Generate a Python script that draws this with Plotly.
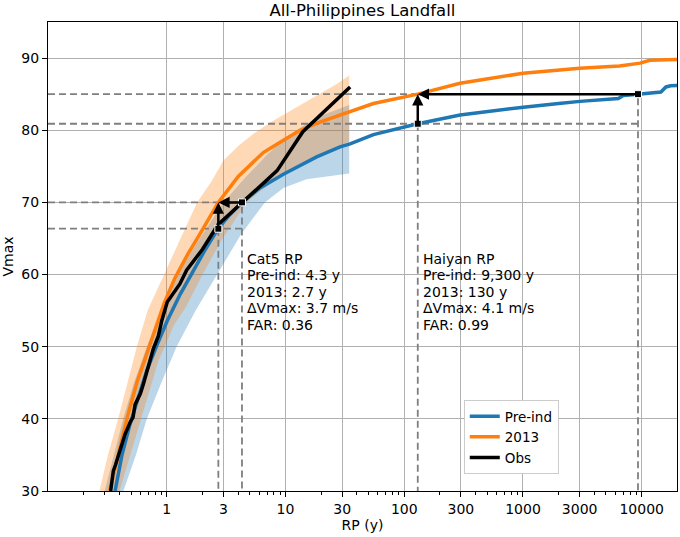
import numpy as np
import plotly.graph_objects as go

# ---------------- data ----------------
pre_x = [0.367, 0.42, 0.491, 0.58, 0.679, 0.83, 1.01, 1.3, 1.68, 2.1, 2.7, 3.4, 4.3, 6.1, 9.6, 13.3, 18.3,
         28.8, 35, 55, 130, 295, 600, 1007, 2000, 3020, 6350, 7000, 9300, 12000, 14500, 16000, 17500, 20000]
pre_v = [30, 35, 39.3, 43.3, 46.7, 50.3, 53.6, 57.3, 60.6, 63.4, 66.35, 68.3, 70, 72.0, 73.9, 75.1, 76.3,
         77.7, 78.1, 79.4, 80.9, 82.1, 82.8, 83.2, 83.7, 84.0, 84.4, 84.8, 85.0, 85.2, 85.3, 86.0, 86.15, 86.2]

cur_x = [0.33, 0.40, 0.47, 0.56, 0.66, 0.78, 0.95, 1.17, 1.5, 1.9, 2.72, 4.0, 6.5, 9.6, 13.3, 20, 29, 55,
         130, 295, 1000, 3000, 5000, 6500, 9700, 11700, 20000]
cur_v = [30, 36, 40.5, 45, 48.5, 52, 56, 59.5, 62.8, 65.6, 70, 73.6, 76.9, 78.6, 80.0, 81.2, 82.1, 83.7,
         85, 86.5, 87.9, 88.6, 88.8, 88.9, 89.3, 89.7, 89.8]

obs_x = [0.337, 0.355, 0.37, 0.399, 0.42, 0.446, 0.491, 0.52, 0.541, 0.60, 0.635, 0.70, 0.771, 0.85,
         0.908, 1.01, 1.15, 1.29, 1.47, 2.0, 2.7, 3.5, 4.3, 6.0, 8.5, 14.0, 35]
obs_v = [30, 32.8, 33.6, 35.3, 36.5, 37.9, 39.5, 40.2, 42.0, 43.5, 44.8, 47.1, 49.7, 51.5,
         53.6, 56.2, 57.5, 58.7, 60.6, 63.5, 66.9, 68.6, 69.9, 72.1, 74.4, 79.8, 86.0]

# uncertainty bands (upper/left edge and lower/right edge)
cur_hi_x = [0.271, 0.32, 0.39, 0.47, 0.56, 0.69, 0.95, 1.3, 1.8, 2.4, 3.0, 4.0, 5.37, 7.5, 10, 13.3, 20, 27, 34.4]
cur_hi_v = [30, 35, 40, 45, 50, 55, 60, 65, 70, 73, 75.8, 77.8, 79.5, 81.1, 82.3, 83.5, 85.1, 86.4, 87.6]
cur_lo_x = [0.40, 0.52, 0.66, 0.85, 1.15, 1.45, 2.0, 2.9, 4.7, 7.4, 13, 20, 34.4]
cur_lo_v = [30, 36, 42, 48, 53, 55.5, 60, 64.8, 70, 72.6, 75.3, 76.8, 78.4]

pre_hi_x = [0.30, 0.36, 0.43, 0.53, 0.68, 0.9, 1.22, 1.9, 3.0, 4.5, 7, 10, 15, 22, 34.4]
pre_hi_v = [30, 35, 40, 45, 50, 55, 60, 65, 70, 73.3, 76.6, 79.0, 80.9, 82.3, 83.5]
pre_lo_x = [0.431, 0.55, 0.68, 0.9, 1.21, 1.75, 2.64, 4.2, 6.7, 9.6, 15, 34.4]
pre_lo_v = [30, 35, 40, 45, 50, 55, 60, 65.5, 70, 72, 73.2, 74]

# event annotations
cat5_v, cat5_rp_pre, cat5_rp_now, cat5_v_pre_now = 70, 4.3, 2.72, 66.35
haiyan_v, haiyan_rp_pre, haiyan_rp_now, haiyan_v_pre_now = 85, 9300, 130, 80.9
cat5_text = ["Cat5 RP", "Pre-ind: 4.3 y", "2013: 2.7 y", "ΔVmax: 3.7 m/s", "FAR: 0.36"]
haiyan_text = ["Haiyan RP", "Pre-ind: 9,300 y", "2013: 130 y", "ΔVmax: 4.1 m/s", "FAR: 0.99"]

x_ticks = [1, 3, 10, 30, 100, 300, 1000, 3000, 10000]
y_ticks = [30, 40, 50, 60, 70, 80, 90]

X_MIN, Y_MIN = 0.1, 30

BLUE = "#1f77b4"
ORANGE = "#ff7f0e"
FONT = "DejaVu Sans"

fig = go.Figure()

def band(xh, vh, xl, vl, color):
    fig.add_trace(go.Scatter(x=list(xh) + list(xl)[::-1], y=list(vh) + list(vl)[::-1],
                             mode="lines", fill="toself", fillcolor=color,
                             line=dict(width=0), hoverinfo="skip", showlegend=False))

band(pre_hi_x, pre_hi_v, pre_lo_x, pre_lo_v, "rgba(31,119,180,0.3)")
band(cur_hi_x, cur_hi_v, cur_lo_x, cur_lo_v, "rgba(255,127,14,0.3)")

DASH = dict(color="#7f7f7f", width=1.8, dash="7px,4px")

def guide(xs, ys):
    fig.add_trace(go.Scatter(x=xs, y=ys, mode="lines", line=DASH, showlegend=False, hoverinfo="skip"))

# Cat5 guides
guide([X_MIN, cat5_rp_pre, cat5_rp_pre], [cat5_v, cat5_v, Y_MIN])
guide([X_MIN, cat5_rp_pre], [cat5_v_pre_now, cat5_v_pre_now])
guide([cat5_rp_now, cat5_rp_now], [cat5_v_pre_now, Y_MIN])
# Haiyan guides
guide([X_MIN, haiyan_rp_pre, haiyan_rp_pre], [haiyan_v, haiyan_v, Y_MIN])
guide([X_MIN, haiyan_rp_pre], [haiyan_v_pre_now, haiyan_v_pre_now])
guide([haiyan_rp_now, haiyan_rp_now], [haiyan_v_pre_now, Y_MIN])

fig.add_trace(go.Scatter(x=pre_x, y=pre_v, mode="lines", name="Pre-ind", line=dict(color=BLUE, width=3.5)))
fig.add_trace(go.Scatter(x=cur_x, y=cur_v, mode="lines", name="2013", line=dict(color=ORANGE, width=3.5)))
fig.add_trace(go.Scatter(x=obs_x, y=obs_v, mode="lines", name="Obs", line=dict(color="black", width=3.5)))

# arrows
def arrow(x0, y0, x1, y1):
    fig.add_annotation(x=np.log10(x1), y=y1, ax=np.log10(x0), ay=y0, xref="x", yref="y",
                       axref="x", ayref="y", text="", showarrow=True, arrowhead=2,
                       arrowsize=0.9, arrowwidth=2.5, arrowcolor="black")

arrow(cat5_rp_pre, cat5_v, cat5_rp_now, cat5_v)
arrow(cat5_rp_now, cat5_v_pre_now, cat5_rp_now, cat5_v)
arrow(haiyan_rp_pre, haiyan_v, haiyan_rp_now, haiyan_v)
arrow(haiyan_rp_now, haiyan_v_pre_now, haiyan_rp_now, haiyan_v)

fig.add_trace(go.Scatter(x=[cat5_rp_pre, cat5_rp_now, haiyan_rp_pre, haiyan_rp_now],
                         y=[cat5_v, cat5_v_pre_now, haiyan_v, haiyan_v_pre_now],
                         mode="markers", showlegend=False, hoverinfo="skip",
                         marker=dict(symbol="square", size=7, color="black",
                                     line=dict(color="white", width=1))))

# text blocks
def text_block(lines, x_at):
    for i, t in enumerate(lines):
        fig.add_annotation(x=np.log10(x_at), y=62.2, xref="x", yref="y", text=t, showarrow=False,
                           xanchor="left", yanchor="middle", xshift=3, yshift=-16.6 * i,
                           font=dict(family=FONT, size=14, color="black"))

text_block(cat5_text, cat5_rp_pre)
text_block(haiyan_text, haiyan_rp_now)

minor_vals = []
for dec in [0.1, 1, 10, 100, 1000, 10000]:
    for k in range(2, 10):
        v = k * dec
        if v not in (3, 30, 300, 3000) and v < 20000:
            minor_vals.append(v)

fig.update_layout(
    width=680, height=537,
    margin=dict(l=48, r=3, t=22, b=46),
    paper_bgcolor="white", plot_bgcolor="white",
    font=dict(family=FONT, size=14, color="black"),
    title=dict(text="All-Philippines Landfall", x=0.533, xanchor="center", y=0.981, yanchor="middle",
               yref="container", font=dict(family=FONT, size=16.5, color="black")),
    legend=dict(x=0.661, y=0.194, xanchor="left", yanchor="top", bgcolor="white",
                bordercolor="#cccccc", borderwidth=1, font=dict(family=FONT, size=13.5),
                tracegroupgap=0, itemwidth=30),
    showlegend=True,
)
fig.update_xaxes(type="log", range=[-1, 4.297], tickmode="array", tickvals=x_ticks,
                 ticktext=[str(v) for v in x_ticks], ticks="outside", ticklen=5, tickwidth=1,
                 tickcolor="black", showgrid=True, gridcolor="#b0b0b0", gridwidth=1,
                 showline=True, linecolor="black", linewidth=1, mirror=True, zeroline=False,
                 title=dict(text="RP (y)", standoff=4, font=dict(size=14)),
                 minor=dict(tickmode="array", tickvals=minor_vals, ticks="outside", ticklen=3,
                            tickcolor="black", showgrid=False))
fig.update_yaxes(range=[30, 95], tickmode="array", tickvals=y_ticks, ticks="outside", ticklen=5,
                 tickwidth=1, tickcolor="black", showgrid=True, gridcolor="#b0b0b0", gridwidth=1,
                 showline=True, linecolor="black", linewidth=1, mirror=True, zeroline=False,
                 title=dict(text="Vmax", standoff=6, font=dict(size=14)))

fig.write_html("out.html", config={"displayModeBar": False},
               post_script="document.body.style.margin='0';document.body.style.overflow='hidden';")
